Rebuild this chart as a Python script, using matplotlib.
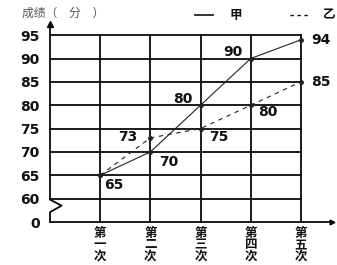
import matplotlib
matplotlib.use("Agg")
import matplotlib.pyplot as plt
from matplotlib.lines import Line2D

# ---- data ----
categories = ["第\n一\n次", "第\n二\n次", "第\n三\n次", "第\n四\n次", "第\n五\n次"]
jia = [65, 70, 80, 90, 94]
yi = [65, 73, 75, 80, 85]
ytick_values = [0, 60, 65, 70, 75, 80, 85, 90, 95]
y_label = "成绩（　分　）"
legend_names = ["甲", "乙"]

plt.rcParams['font.family'] = ['Noto Sans CJK SC', 'DejaVu Sans']

BREAK_LOW = 55  # display position of value 0 (broken axis)


def ypos(v):
    return v if v >= 60 else BREAK_LOW


fig = plt.figure(figsize=(3.37, 2.65), dpi=100)
ax = fig.add_axes([50 / 337, 43 / 265, 283 / 337, 199 / 265])
ax.set_xlim(0, 5.64)
ax.set_ylim(BREAK_LOW, 97.6)
for s in ax.spines.values():
    s.set_visible(False)

xs = list(range(1, len(categories) + 1))
gc = "#0a0a0a"
glw = 1.3
# horizontal grid lines
for v in ytick_values:
    if v >= 60:
        ax.plot([0, xs[-1]], [ypos(v), ypos(v)], color=gc, lw=glw, clip_on=False)
# vertical grid lines
for x in xs:
    ax.plot([x, x], [BREAK_LOW, ypos(95)], color=gc, lw=glw, clip_on=False)
# x axis with arrow
ax.plot([0, 5.64], [BREAK_LOW, BREAK_LOW], color=gc, lw=glw, clip_on=False)
ax.plot([5.62], [BREAK_LOW], marker=">", color=gc, ms=3.5, clip_on=False)
# y axis with zigzag break and arrow
ax.plot([0, 0, 0.23, 0, 0], [97.3, 59.8, 58.5, 57.1, BREAK_LOW],
        color=gc, lw=glw, clip_on=False)
ax.plot([0], [97.3], marker="^", color=gc, ms=4, clip_on=False)

# data lines
ax.plot(xs, [ypos(v) for v in jia], color="#222222", lw=0.8,
        marker="o", ms=2.5, clip_on=False)
ax.plot(xs, [ypos(v) for v in yi], color="#222222", lw=0.8,
        linestyle=(0, (4, 4)), marker="o", ms=2.5, clip_on=False)

numfont = dict(family="DejaVu Sans", fontweight="bold", fontsize=10,
               color="#111111", ha="center", va="center")
jia_off = [(10, -7), (13, -7), (-13, 4.5), (-13, 5), (14.5, 0)]
yi_off = [None, (-16, 0.5), (13, -6), (12.5, -5), (14.5, 0)]
for i, (x, v) in enumerate(zip(xs, jia)):
    ax.annotate(str(v), (x, ypos(v)), xytext=jia_off[i],
                textcoords="offset points", **numfont)
for i, (x, v) in enumerate(zip(xs, yi)):
    if yi_off[i] is None:
        continue
    ax.annotate(str(v), (x, ypos(v)), xytext=yi_off[i],
                textcoords="offset points", **numfont)

# ticks
ax.set_yticks([ypos(v) for v in ytick_values])
ax.set_yticklabels([str(v) for v in ytick_values], family="DejaVu Sans",
                   fontweight="bold", fontsize=10, color="#111111")
ax.tick_params(axis="y", length=0, pad=7.5)
ax.set_xticks(xs)
ax.set_xticklabels(categories, fontweight="bold", fontsize=9,
                   linespacing=0.82, color="#111111")
ax.tick_params(axis="x", length=0, pad=3.5)

# title / unit
fig.text(22 / 337, 1 - 13 / 265, y_label, fontsize=8.5, color="#555555",
         ha="left", va="center")

# legend drawn manually
fig.add_artist(Line2D([195 / 337, 213 / 337], [1 - 15 / 265, 1 - 15 / 265],
                      color="#111111", lw=1.2))
fig.text(230 / 337, 1 - 15 / 265, legend_names[0], fontsize=9,
         fontweight="bold", ha="left", va="center", color="#111111")
fig.add_artist(Line2D([290 / 337, 308 / 337], [1 - 15 / 265, 1 - 15 / 265],
                      color="#111111", lw=1.0, linestyle=(0, (2.5, 2.5))))
fig.text(336 / 337, 1 - 15 / 265, legend_names[1], fontsize=9,
         fontweight="bold", ha="right", va="center", color="#111111")

fig.savefig("out.png", dpi=100, facecolor="white")
